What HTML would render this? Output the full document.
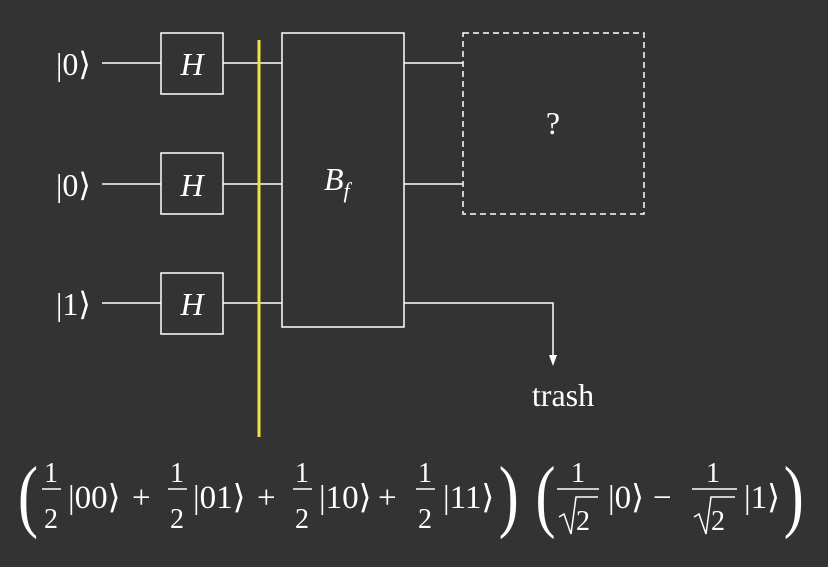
<!DOCTYPE html>
<html><head><meta charset="utf-8"><style>
html,body{margin:0;padding:0;background:#333333;}
svg{display:block;}
text{font-family:"Liberation Serif","DejaVu Serif",serif;fill:#fff;}
</style></head><body>
<svg width="828" height="567" viewBox="0 0 828 567">
<rect width="828" height="567" fill="#333333"/>
<g stroke="#fff" stroke-width="1.5" fill="none">
<line x1="102" y1="63" x2="161" y2="63"/><line x1="102" y1="184" x2="161" y2="184"/><line x1="102" y1="303" x2="161" y2="303"/>
<line x1="223" y1="63" x2="282" y2="63"/><line x1="223" y1="184" x2="282" y2="184"/><line x1="223" y1="303" x2="282" y2="303"/>
<line x1="404" y1="63" x2="463" y2="63"/><line x1="404" y1="184" x2="463" y2="184"/>
<polyline points="404,303 553,303 553,357"/>
</g>
<polygon points="549,355 557,355 553,366" fill="#fff"/>
<g stroke="#fff" stroke-width="1.5" fill="#333333">
<rect x="161" y="33" width="62" height="61"/>
<rect x="161" y="153" width="62" height="61"/>
<rect x="161" y="273" width="62" height="61"/>
<rect x="282" y="33" width="122" height="294"/>
<rect x="463" y="33" width="181" height="181" stroke-dasharray="6,4"/>
</g>
<line x1="259" y1="40" x2="259" y2="437" stroke="#f2e04a" stroke-width="3"/>
<g font-size="32">
<text x="56" y="75">|0⟩</text>
<text x="56" y="196">|0⟩</text>
<text x="56" y="315">|1⟩</text>
<text x="192" y="75" font-style="italic" text-anchor="middle">H</text>
<text x="192" y="196" font-style="italic" text-anchor="middle">H</text>
<text x="192" y="315" font-style="italic" text-anchor="middle">H</text>
<text x="324" y="190" font-style="italic">B<tspan font-size="22" dy="8">f</tspan></text>
<text x="553" y="134" text-anchor="middle">?</text>
<text x="563" y="406" text-anchor="middle">trash</text>
</g>
<g>
<text x="18" y="522" font-size="80" transform="scale(0.75,1) translate(6,0)">(</text>
<text x="665" y="522" font-size="80" transform="scale(0.75,1)">)</text>
<text x="714" y="522" font-size="80" transform="scale(0.75,1)">(</text>
<text x="1045" y="522" font-size="80" transform="scale(0.75,1)">)</text>
<g font-size="28" text-anchor="middle">
<text x="51" y="482">1</text><text x="51" y="528">2</text>
<text x="177" y="482">1</text><text x="177" y="528">2</text>
<text x="302" y="482">1</text><text x="302" y="528">2</text>
<text x="425" y="482">1</text><text x="425" y="528">2</text>
<text x="578" y="482">1</text><text x="583" y="530">2</text>
<text x="713" y="482">1</text><text x="718" y="530">2</text>
</g>
<g stroke="#fff" stroke-width="1.5">
<line x1="42" y1="489" x2="61" y2="489"/><line x1="168" y1="489" x2="187" y2="489"/>
<line x1="293" y1="489" x2="312" y2="489"/><line x1="416" y1="489" x2="435" y2="489"/>
<line x1="557" y1="489" x2="599" y2="489"/><line x1="692" y1="489" x2="737" y2="489"/>
<polyline fill="none" points="559,517 564,514 571,534 576,497 598,497"/>
<polyline fill="none" points="694,517 699,514 706,534 711,497 735,497"/>
</g>
<g font-size="33">
<text x="68" y="508">|00⟩</text><text x="132" y="508">+</text>
<text x="193" y="508">|01⟩</text><text x="257" y="508">+</text>
<text x="319" y="508">|10⟩</text><text x="378" y="508">+</text>
<text x="443" y="508">|11⟩</text>
<text x="608" y="508">|0⟩</text><text x="653" y="508">−</text>
<text x="744" y="508">|1⟩</text>
</g>
</g>
</svg>
</body></html>
